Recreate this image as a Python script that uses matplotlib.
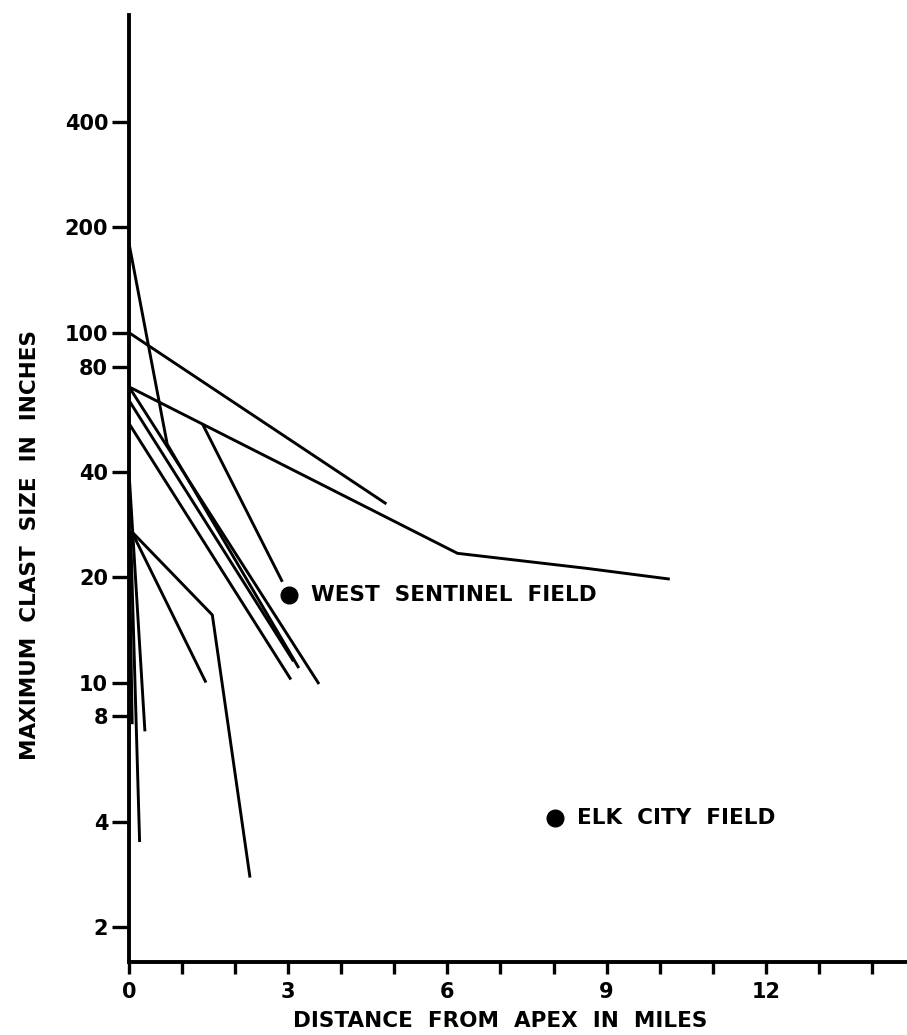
import matplotlib
matplotlib.use("Agg")
import matplotlib.pyplot as plt
from matplotlib.ticker import FixedLocator, NullLocator

# ---- data (distance in miles, max clast size in inches) ----
fan_a_x = [0.0, 6.19, 8.62, 10.19]
fan_a_y = [70, 23.4, 21.2, 19.75]
fan_b_x = [0.0, 4.85]
fan_b_y = [100, 32.4]
fan_c_x = [0.0, 0.72, 3.2]
fan_c_y = [180, 48, 11.0]
fan_d_x = [0.0, 3.58]
fan_d_y = [70, 9.9]
fan_e_x = [0.0, 3.1]
fan_e_y = [64, 11.5]
fan_f_x = [0.0, 3.05]
fan_f_y = [55, 10.2]
fan_g_x = [1.38, 2.89]
fan_g_y = [55, 19.4]
fan_h_x = [0.05, 1.57, 2.28]
fan_h_y = [27, 15.6, 2.77]
fan_i_x = [0.05, 1.45]
fan_i_y = [27, 10]
fan_j_x = [0.0, 0.3]
fan_j_y = [40, 7.25]
fan_k_x = [0.03, 0.2]
fan_k_y = [27, 3.5]
fan_l_x = [0.0, 0.06]
fan_l_y = [27, 7.6]

fans = [(fan_a_x, fan_a_y), (fan_b_x, fan_b_y), (fan_c_x, fan_c_y),
        (fan_d_x, fan_d_y), (fan_e_x, fan_e_y), (fan_f_x, fan_f_y),
        (fan_g_x, fan_g_y), (fan_h_x, fan_h_y), (fan_i_x, fan_i_y),
        (fan_j_x, fan_j_y), (fan_k_x, fan_k_y), (fan_l_x, fan_l_y)]

field_names = ["WEST  SENTINEL  FIELD", "ELK  CITY  FIELD"]
field_x = [3.02, 8.02]
field_y = [17.8, 4.1]

y_ticks = [2, 4, 8, 10, 20, 40, 80, 100, 200, 400]
y_tick_labels = ["2", "4", "8", "10", "20", "40", "80", "100", "200", "400"]
x_major = [0, 3, 6, 9, 12]
x_major_labels = ["0", "3", "6", "9", "12"]
x_minor = [1, 2, 4, 5, 7, 8, 10, 11, 13, 14]

W, H = 907, 1035
fig = plt.figure(figsize=(W / 100, H / 100), dpi=100)
ax = fig.add_axes([129 / W, (H - 962) / H, 1 - 129 / W, (962 - 15) / H])

for xs, ys in fans:
    ax.plot(xs, ys, color="black", lw=2.1, solid_capstyle="butt", clip_on=False)

ax.plot(field_x, field_y, "o", color="black", ms=12, clip_on=False)
for name, fx, fy in zip(field_names, field_x, field_y):
    ax.annotate(name, (fx, fy), xytext=(16, 0), textcoords="offset points",
                va="center", ha="left", fontsize=15.5, fontweight="bold",
                family="DejaVu Sans")

ax.set_yscale("log")
ax.set_ylim(1.589, 809)
ax.set_xlim(0, 14.66)

ax.yaxis.set_major_locator(FixedLocator(y_ticks))
ax.set_yticklabels(y_tick_labels)
ax.yaxis.set_minor_locator(NullLocator())
ax.xaxis.set_major_locator(FixedLocator(x_major))
ax.set_xticklabels(x_major_labels)
ax.xaxis.set_minor_locator(FixedLocator(x_minor))

for s in ["top", "right"]:
    ax.spines[s].set_visible(False)
for s in ["left", "bottom"]:
    ax.spines[s].set_linewidth(2.8)

ax.tick_params(axis="y", which="major", direction="out", length=12, width=2.4,
               labelsize=15, pad=3)
ax.tick_params(axis="x", which="both", direction="out", length=8.5, width=2.4,
               labelsize=15, pad=6)
for lab in ax.get_xticklabels() + ax.get_yticklabels():
    lab.set_fontweight("bold")

fig.text(500 / W, 1 - 1021 / H, "DISTANCE  FROM  APEX  IN  MILES", ha="center",
         va="center", fontsize=15.5, fontweight="bold")
fig.text(30 / W, 1 - 545 / H, "MAXIMUM  CLAST  SIZE  IN  INCHES", ha="center",
         va="center", rotation=90, fontsize=15.5, fontweight="bold")

fig.savefig("out.png", dpi=100)
